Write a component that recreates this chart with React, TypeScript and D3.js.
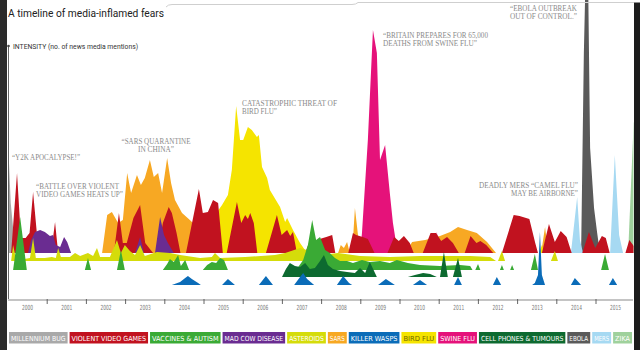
import React from 'react';
import * as d3 from 'd3';

type Pt = [number, number];

// [years after 1 Jan 2000, intensity]
const millenniumBug: Pt[] = [[0, 0], [0.02, 95], [0.07, 50], [0.13, 25], [0.2, 15], [0.43, 12], [0.56, 8], [0.64, 0]];

const violentGames: Pt[] = [
  [0.08, 0], [0.23, 80], [0.33, 15], [0.45, 15], [0.55, 20], [0.64, 61], [0.74, 18], [0.85, 14], [0.95, 0],
  [1.1, 0], [1.2, 31], [1.28, 0],
  [2.7, 0], [2.83, 40], [2.93, 10], [3.03, 10], [3.2, 35], [3.37, 48], [3.5, 10], [3.6, 5], [3.7, 0],
  [3.82, 0], [3.95, 30], [4.1, 46], [4.18, 40], [4.3, 20], [4.4, 0],
  [4.54, 0], [4.87, 64], [4.97, 40], [5.1, 41], [5.23, 53], [5.36, 50], [5.48, 0],
  [5.58, 0], [5.84, 51], [5.95, 30], [6.05, 38], [6.12, 34], [6.18, 40], [6.27, 30], [6.36, 0],
  [6.58, 0], [6.86, 38], [6.98, 18], [7.12, 23], [7.2, 17], [7.27, 21], [7.37, 0],
  [7.58, 0], [7.7, 12], [7.85, 8], [7.95, 14], [8.12, 16], [8.27, 18], [8.35, 0],
  [8.68, 0], [8.8, 20], [8.88, 18], [9.05, 16], [9.18, 14], [9.35, 0],
  [9.68, 0], [9.85, 16], [9.97, 12], [10.1, 17], [10.25, 10], [10.35, 0],
  [10.58, 0], [10.78, 20], [10.92, 20], [11.05, 12], [11.2, 16], [11.35, 10], [11.5, 0],
  [11.65, 0], [11.8, 17], [11.95, 10], [12.05, 12], [12.2, 8], [12.38, 0],
  [12.6, 0], [12.9, 38], [13.05, 37], [13.3, 34], [13.45, 10], [13.52, 0],
  [13.62, 0], [13.8, 29], [13.95, 11], [14.1, 22], [14.25, 16], [14.38, 0],
  [14.65, 0], [14.82, 21], [14.98, 5], [15.15, 17], [15.25, 15], [15.35, 0],
  [15.75, 0], [15.85, 13], [16, 5],
];

const sars: Pt[] = [
  [2.4, 0], [2.53, 38], [2.65, 41], [2.81, 30], [2.93, 33], [3.04, 80], [3.14, 60], [3.29, 78], [3.39, 68],
  [3.49, 75], [3.62, 93], [3.72, 76], [3.83, 80], [3.93, 60], [4.06, 95], [4.16, 70], [4.26, 53], [4.44, 40],
  [4.64, 33], [4.77, 28], [4.82, 0],
  [8.42, 0], [8.49, 8], [8.57, 5], [8.65, 11], [8.72, 0],
  [8.78, 0], [8.85, 45], [8.98, 0],
  [10.13, 0], [10.31, 11], [10.64, 13], [11.02, 17], [11.28, 21], [11.48, 26], [11.71, 23], [11.96, 20], [12.22, 11], [12.45, 0],
  [13.6, 0], [13.7, 26], [13.78, 0],
  [14.0, 0], [14.08, 10], [14.15, 0],
];

const birdFlu: Pt[] = [
  [4.97, 0], [5.1, 23], [5.28, 38], [5.46, 48], [5.61, 58], [5.71, 83], [5.82, 147], [5.92, 113], [6.0, 113],
  [6.12, 126], [6.22, 123], [6.35, 116], [6.4, 118], [6.48, 86], [6.61, 75], [6.68, 63], [6.94, 46], [7.07, 31],
  [7.12, 35], [7.27, 23], [7.45, 10], [7.63, 0],
  [13.55, 0], [13.62, 8], [13.68, 0],
];

const swineFlu: Pt[] = [
  [8.98, 0], [9.03, 20], [9.18, 113], [9.31, 223], [9.41, 200], [9.49, 93], [9.62, 108], [9.74, 60], [9.82, 30], [9.9, 10], [9.95, 0],
  [10.87, 0], [10.94, 21], [11.02, 0],
];

const madCow: Pt[] = [
  [0.51, 0], [0.59, 13], [0.69, 21], [0.82, 23], [0.94, 21], [1.07, 17], [1.15, 18], [1.22, 8], [1.33, 6], [1.43, 16], [1.51, 11], [1.61, 0],
  [3.24, 0], [3.37, 16], [3.47, 0],
  [3.75, 0], [3.88, 36], [3.98, 18], [4.08, 10], [4.23, 0],
];

const ebola: Pt[] = [[14.62, 0], [14.69, 200], [14.73, 270], [14.8, 270], [14.85, 105], [14.95, 45], [15.03, 20], [15.1, 0]];
const mers: Pt[] = [[14.36, 0], [14.52, 56], [14.59, 13], [14.67, 0], [15.36, 0], [15.48, 98], [15.59, 18], [15.69, 0]];
const zika: Pt[] = [[15.82, 0], [15.96, 130], [16.1, 150]];

const asteroids: Pt[] = [
  [0.08, 0], [0.13, 16], [0.2, 3], [0.31, 4], [0.41, 2], [0.56, 3], [0.64, 23], [0.71, 3], [0.94, 3], [1.12, 4],
  [1.22, 3], [1.28, 13], [1.35, 4], [1.58, 4], [1.71, 8], [1.84, 5], [2.04, 8], [2.17, 5], [2.27, 13], [2.35, 4],
  [2.6, 4], [2.78, 21], [2.88, 8], [2.98, 16], [3.11, 10], [3.24, 6], [3.37, 16], [3.49, 5], [3.8, 9], [4.13, 8],
  [4.39, 6], [4.9, 3], [5.2, 4], [5.28, 8], [5.41, 3], [6.05, 4], [6.81, 6], [7.07, 8], [7.45, 13], [7.7, 10],
  [7.96, 6], [8.42, 8], [8.98, 5], [9.74, 4], [10.51, 5], [11.07, 5], [11.79, 5], [12.3, 4], [12.45, 0],
  [12.5, 0], [12.6, 10], [12.68, 0],
  [13.85, 0], [13.95, 10], [14.03, 0],
];

const vaccines: Pt[] = [
  [0.13, 0], [0.31, 53], [0.48, 0],
  [1.96, 0], [2.04, 12], [2.12, 0],
  [2.78, 0], [2.88, 20], [2.98, 0],
  [3.95, 0], [4.06, 6], [4.13, 11], [4.23, 8], [4.34, 15], [4.41, 4], [4.52, 10], [4.62, 0],
  [4.97, 0], [5.08, 5], [5.2, 8], [5.31, 7], [5.41, 12], [5.51, 10], [5.61, 0],
  [7.35, 0], [7.53, 10], [7.65, 25], [7.76, 50], [7.86, 30], [7.96, 33], [8.09, 20], [8.21, 17], [8.34, 12],
  [8.47, 9], [8.65, 9], [8.8, 7], [9.03, 10], [9.23, 8], [9.49, 9], [9.74, 7], [9.92, 10], [10.2, 7], [10.51, 5],
  [11.02, 4], [11.53, 5], [11.79, 4], [11.85, 0],
  [11.92, 0], [11.99, 6], [12.05, 0],
  [12.55, 0], [12.6, 5], [12.65, 0],
  [12.81, 0], [12.86, 5], [12.91, 0],
  [13.34, 0], [13.44, 16], [13.52, 0],
  [15.13, 0], [15.23, 16], [15.33, 0],
];

const cellPhones: Pt[] = [
  [6.99, 0], [7.09, 8], [7.19, 14], [7.32, 11], [7.45, 10], [7.58, 14], [7.7, 8], [7.83, 9], [7.96, 16], [8.06, 22],
  [8.16, 12], [8.29, 8], [8.47, 6], [8.65, 5], [8.85, 4], [8.98, 9], [9.11, 4], [9.23, 15], [9.41, 0],
  [10.2, 0], [10.38, 2], [10.59, 4], [10.77, 3], [10.94, 0],
  [11.02, 0], [11.12, 25], [11.22, 0],
  [11.35, 0], [11.48, 19], [11.58, 0],
];

const killerWasps: Pt[] = [
  [4.18, 0], [4.39, 3], [4.52, 7], [4.59, 9], [4.69, 6], [4.85, 2], [4.92, 0],
  [5.46, 0], [5.61, 6], [5.79, 0],
  [6.4, 0], [6.58, 9], [6.76, 0],
  [7.3, 0], [7.45, 8], [7.53, 12], [7.63, 6], [7.78, 1], [7.81, 0],
  [8.39, 0], [8.55, 9], [8.7, 2], [8.78, 0],
  [9.44, 0], [9.64, 6], [9.87, 0],
  [10.33, 0], [10.51, 5], [10.69, 0],
  [11.38, 0], [11.48, 8], [11.58, 0],
  [12.37, 0], [12.47, 8], [12.58, 0],
  [13.37, 0], [13.44, 2], [13.52, 10], [13.57, 53], [13.62, 10], [13.7, 0],
  [14.36, 0], [14.46, 7], [14.62, 0],
  [15.33, 0], [15.43, 7], [15.54, 0],
];

const years = d3.range(2000, 2016);

const legendLabels = ['MILLENNIUM BUG', 'VIOLENT VIDEO GAMES', 'VACCINES & AUTISM', 'MAD COW DISEASE', 'ASTEROIDS', 'SARS',
  'KILLER WASPS', 'BIRD FLU', 'SWINE FLU', 'CELL PHONES & TUMOURS', 'EBOLA', 'MERS', 'ZIKA'];
const legendColors = ['#a9a9a9', '#c1121f', '#3aaa35', '#6a2c91', '#d5dc0a', '#f7a823', '#0b6cb8', '#f5e400', '#e5127a',
  '#0d6a30', '#5a5a5a', '#a6d9f2', '#9fd19c'];

const W = 640;
const H = 350;
const x = d3.scaleLinear().domain([0, 16]).range([8, 635.2]);
const h = d3.scaleLinear().domain([0, 250]).range([0, 250]);

// baselines of the separate strips
const BASE = { main: 253, asteroids: 261, vaccines: 270, phones: 277, wasps: 285 };

const areaAt = (base: number) =>
  d3.area<Pt>().x(d => x(d[0])).y0(base).y1(d => base - h(d[1])).curve(d3.curveLinear);

// draw order, back to front
const layers = [
  { data: millenniumBug, color: legendColors[0], base: BASE.main },
  { data: sars, color: legendColors[5], base: BASE.main },
  { data: birdFlu, color: legendColors[7], base: BASE.main },
  { data: swineFlu, color: legendColors[8], base: BASE.main },
  { data: ebola, color: legendColors[10], base: BASE.main },
  { data: mers, color: legendColors[11], base: BASE.main },
  { data: zika, color: legendColors[12], base: BASE.main },
  { data: violentGames, color: legendColors[1], base: BASE.main },
  { data: madCow, color: legendColors[3], base: BASE.main },
  { data: asteroids, color: legendColors[4], base: BASE.asteroids },
  { data: vaccines, color: legendColors[2], base: BASE.vaccines },
  { data: cellPhones, color: legendColors[9], base: BASE.phones },
  { data: killerWasps, color: legendColors[6], base: BASE.wasps },
];

const notes = [
  { lines: ['“Y2K APOCALYPSE!”'], x: 12, y: 159.5, anchor: 'start', w: [68] },
  { lines: ['“BATTLE OVER VIOLENT', 'VIDEO GAMES HEATS UP”'], x: 36, y: 189, anchor: 'start', w: [83, 87] },
  { lines: ['“SARS QUARANTINE', 'IN CHINA”'], x: 156, y: 144, anchor: 'middle', w: [69, 36] },
  { lines: ['CATASTROPHIC THREAT OF', 'BIRD FLU”'], x: 242, y: 106, anchor: 'start', w: [95, 35] },
  { lines: ['“BRITAIN PREPARES FOR 65,000', 'DEATHS FROM SWINE FLU”'], x: 383, y: 38, anchor: 'start', w: [105, 94] },
  { lines: ['“EBOLA OUTBREAK', 'OUT OF CONTROL.”'], x: 577, y: 11, anchor: 'end', w: [67, 67] },
  { lines: ['DEADLY MERS “CAMEL FLU”', 'MAY BE AIRBORNE”'], x: 578, y: 188, anchor: 'end', w: [99, 67] },
];

const condensed = "'DejaVu Sans Condensed', 'Liberation Sans Narrow', Roboto, sans-serif";

export default function App() {
  // legend boxes sized by label length, fitted to the strip 9..632
  const raw = legendLabels.map(l => l.length * 3.95 + 3);
  const gap = 2;
  const k = (623 - gap * (raw.length - 1)) / d3.sum(raw);
  let cx = 9;
  const legend = legendLabels.map((l, i) => {
    const w = raw[i] * k;
    const item = { label: l, color: legendColors[i], x: cx, w };
    cx += w + gap;
    return item;
  });

  return (
    <svg width={W} height={H} style={{ position: 'absolute', left: 0, top: 0, background: '#fff' }}>
      <defs>
        <clipPath id="plot">
          <rect x={8.5} y={0} width={625} height={300} />
        </clipPath>
      </defs>
      <rect width={W} height={H} fill="#fff" />

      <g clipPath="url(#plot)">
        {layers.map((l, i) => (
          <path key={i} d={areaAt(l.base)(l.data) || ''} fill={l.color} />
        ))}
      </g>

      {/* y axis */}
      <line x1={8.5} x2={8.5} y1={46} y2={300} stroke="#666" strokeWidth={1} />
      <circle cx={8.5} cy={46} r={1.3} fill="#444" />
      <text x={13} y={48.5} fontFamily="Roboto, sans-serif" fontSize={6.8} fill="#333" textLength={125} lengthAdjust="spacingAndGlyphs">
        INTENSITY (no. of news media mentions)
      </text>

      {/* x axis */}
      <line x1={8} x2={633} y1={300} y2={300} stroke="#c4c4c4" strokeWidth={2} />
      {years.slice(1).map(y => (
        <line key={y} x1={x(y - 2000)} x2={x(y - 2000)} y1={299} y2={304} stroke="#555" strokeWidth={0.9} />
      ))}
      {years.map(y => (
        <text key={y} x={x(y - 2000 + 0.5)} y={310} textAnchor="middle" fontFamily={condensed} fontSize={7} fill="#777"
          textLength={11} lengthAdjust="spacingAndGlyphs">{y}</text>
      ))}

      {/* annotations */}
      {notes.map((n, i) => (
        <g key={i}>
          {n.lines.map((t, j) => (
            <text key={j} x={n.x} y={n.y + j * 8.2} textAnchor={n.anchor as any} fontFamily="'Liberation Serif', serif"
              fontSize={7.6} fill="#8a8a8a" textLength={n.w[j]} lengthAdjust="spacingAndGlyphs">{t}</text>
          ))}
        </g>
      ))}

      {/* title */}
      <path d="M166,7 Q168,4.5 172,4.5 L352,4.5 Q356,4.5 358,2.5 L634,2.5" fill="none" stroke="#cfcfcf" strokeWidth={1} />
      <text x={8} y={17} fontFamily="Roboto, sans-serif" fontSize={11.5} fill="#222" textLength={156} lengthAdjust="spacingAndGlyphs">
        A timeline of media-inflamed fears
      </text>

      {/* legend */}
      {legend.map(d => (
        <g key={d.label}>
          <rect x={d.x} y={332} width={d.w} height={11.5} fill={d.color} />
          <text x={d.x + d.w / 2} y={340.6} textAnchor="middle" fontFamily={condensed} fontSize={7}
            fill={d.label === 'BIRD FLU' ? '#6f6400' : '#fff'} textLength={d.w - 4} lengthAdjust="spacingAndGlyphs">
            {d.label}
          </text>
        </g>
      ))}

      {/* screen edges */}
      <rect x={0} y={0} width={7} height={H} fill="#2b2b2b" />
      <rect x={634} y={2.5} width={6} height={H} fill="#1c1c1c" />
    </svg>
  );
}
